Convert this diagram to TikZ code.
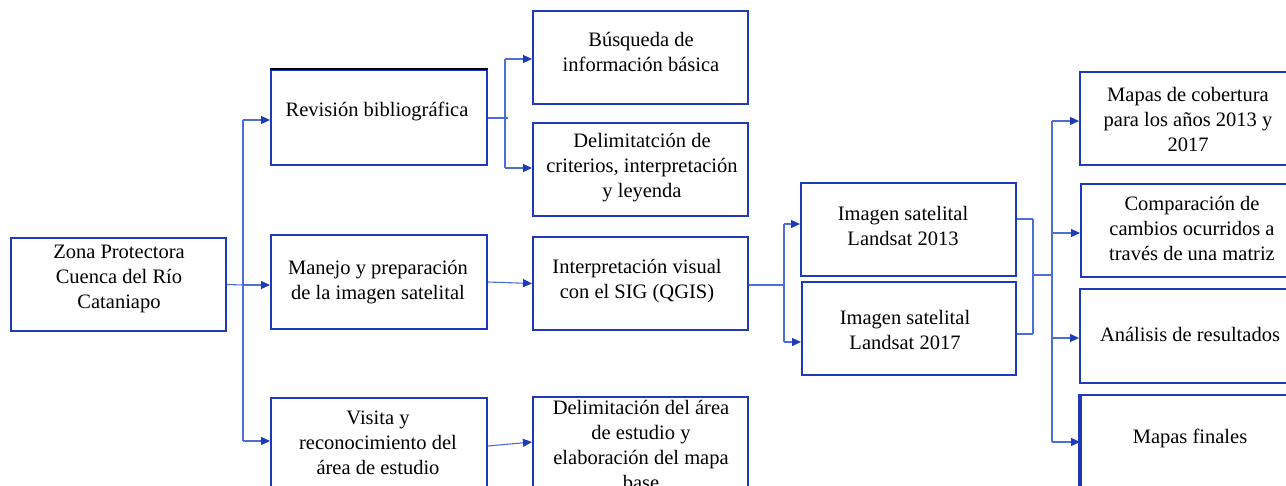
\documentclass[tikz,border=0pt]{standalone}
\usepackage{fontspec}
\setmainfont{Liberation Serif}
\usetikzlibrary{arrows.meta,calc}
\definecolor{boxc}{RGB}{28,58,185}
\definecolor{linec}{RGB}{75,110,215}
\tikzset{
  box/.style={draw=boxc, line width=2pt, inner sep=0pt},
  txt/.style={align=center, inner sep=0pt, font=\fontsize{20.5pt}{25pt}\selectfont},
  conn/.style={draw=linec, line width=1.1pt},
  arr/.style={conn, -{Triangle[length=9pt,width=8pt,color=boxc]}}
}
\newcommand{\boxat}[5]{% name, x1, y1, x2, y2
  \node[box, minimum width={#4-#2}, minimum height={#5-#3}] (#1) at ({(#2+#4)/2},{(#3+#5)/2}) {};}
\begin{document}
\begin{tikzpicture}[x=1pt,y=-1pt]
\useasboundingbox (0,0) rectangle (1286,485);
\clip (0,0) rectangle (1286,485);
\fill[white] (0,0) rectangle (1286,485);
% boxes
\boxat{zona}{11}{238}{226}{331}
\boxat{rev}{271}{70}{487}{165}
\boxat{man}{271}{235}{487}{329}
\boxat{vis}{271}{398}{487}{500}
\boxat{bus}{533}{11}{748}{104}
\boxat{delc}{533}{123}{748}{216}
\boxat{int}{533}{237}{748}{330}
\boxat{dela}{533}{397}{748}{500}
\boxat{imga}{801}{183}{1016}{276}
\boxat{imgb}{802}{282}{1016}{375}
\boxat{mc}{1080}{72}{1296}{165}
\boxat{comp}{1081}{184}{1296}{277}
\boxat{ana}{1080}{289}{1296}{383}
\boxat{mf}{1081}{395}{1296}{500}
\draw[black, line width=2.6pt] (rev.north west) -- (rev.north east);
\draw[boxc, line width=3.6pt] (mf.north west) -- (mf.south west);
% texts
\node[txt] (zonat) at (119,279) {Zona Protectora\\Cuenca del Río\\Cataniapo};
\node[txt] (revt) at (377,111) {Revisión bibliográfica};
\node[txt] (mant) at (378,282) {Manejo y preparación\\de la imagen satelital};
\node[txt] (vist) at (378,443) {Visita y\\reconocimiento del\\área de estudio};
\node[txt] (bust) at (641,52) {Búsqueda de\\información básica};
\node[txt] (delct) at (642,168) {Delimitatción de\\criterios, interpretación\\y leyenda};
\node[txt] (intt) at (637,281) {Interpretación visual\\con el SIG (QGIS)};
\node[txt] (delat) at (641,445) {Delimitación del área\\de estudio y\\elaboración del mapa\\base};
\node[txt] (imgat) at (903,226) {Imagen satelital\\Landsat 2013};
\node[txt] (imgbt) at (905,330) {Imagen satelital\\Landsat 2017};
\node[txt] (mct) at (1188,119) {Mapas de cobertura\\para los años 2013 y\\2017};
\node[txt] (compt) at (1192,228) {Comparación de\\cambios ocurridos a\\través de una matriz};
\node[txt] (anat) at (1190,334) {Análisis de resultados};
\node[txt] (mft) at (1190,438) {Mapas finales};
% junction coordinates
\coordinate (j1) at (243,285);
\coordinate (j1a) at (243,120);
\coordinate (j1c) at (243,441);
\coordinate (j2) at (505,118);
\coordinate (j2e) at (508,118);
\coordinate (j2a) at (505,59);
\coordinate (j2b) at (505,168);
\coordinate (j3) at (784,285);
\coordinate (j3a) at (784,224);
\coordinate (j3b) at (784,342);
\coordinate (k1) at (1033,219);
\coordinate (k2) at (1033,334);
\coordinate (k3) at (1033,275);
\coordinate (k4) at (1052,275);
\coordinate (k5) at (1052,121);
\coordinate (kb) at (1052,233);
\coordinate (kc) at (1052,338);
\coordinate (k6) at (1052,442);
% connectors
\draw[conn] (zona.east) -- (j1);
\draw[conn] (j1a) -- (j1c);
\draw[arr] (j1a) -- (rev.west |- j1a);
\draw[arr] (j1) -- (man.west |- j1);
\draw[arr] (j1c) -- (vis.west |- j1c);
\draw[conn] (rev.east |- j2) -- (j2e);
\draw[conn] (j2a) -- (j2b);
\draw[arr] (j2a) -- (bus.west |- j2a);
\draw[arr] (j2b) -- (delc.west |- j2b);
\draw[arr] (man.east) -- (int.west);
\draw[arr] ([yshift=3pt]vis.east) -- ([yshift=6.5pt]dela.west);
\draw[conn] (int.east |- j3) -- (j3);
\draw[conn] (j3a) -- (j3b);
\draw[arr] (j3a) -- (imga.west |- j3a);
\draw[arr] (j3b) -- (imgb.west |- j3b);
\draw[conn] (imga.east |- k1) -- (k1);
\draw[conn] (imgb.east |- k2) -- (k2);
\draw[conn] (k1) -- (k2);
\draw[conn] (k3) -- (k4);
\draw[conn] (k5) -- (k6);
\draw[arr] (k5) -- (mc.west |- k5);
\draw[arr] (kb) -- (comp.west |- kb);
\draw[arr] (kc) -- (ana.west |- kc);
\draw[arr] (k6) -- (mf.west |- k6);
\end{tikzpicture}
\end{document}
